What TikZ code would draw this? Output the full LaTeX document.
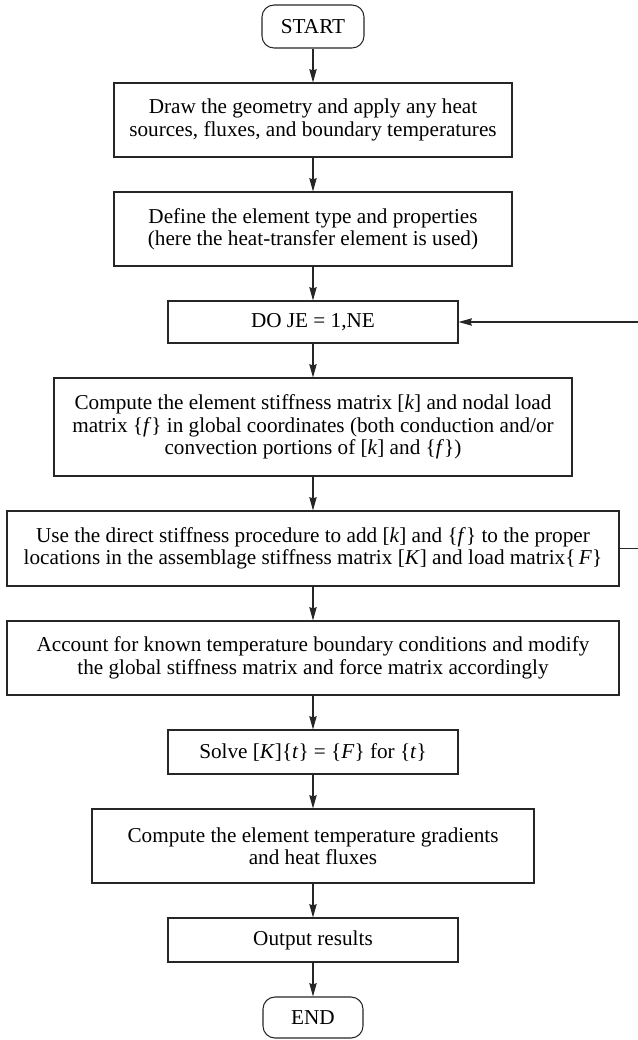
\documentclass[tikz,border=0pt]{standalone}
\usepackage{fontspec}
\setmainfont{Liberation Serif}
\usetikzlibrary{arrows.meta, positioning}

\begin{document}
\begin{tikzpicture}[
    node distance=25.45pt,
    box/.style={draw=black!85, line width=0.8pt, align=center,
                font=\fontsize{15.9}{16.8}\selectfont, inner sep=2pt},
    term/.style={box, rounded corners=9pt, minimum width=76.5pt,
                 minimum height=32.25pt},
    arr/.style={-{Stealth[length=10pt, width=5.5pt, inset=1pt]},
                line width=0.8pt, black!85},
  ]
  \useasboundingbox (-234.75pt,19.875pt) rectangle (243pt,-760.125pt);

  % ── START ──
  \node[term] (start) at (0,0) {START};

  % ── GEOMETRY ──
  \node[box, minimum width=298.5pt, minimum height=55.5pt, below=of start] (geom)
    {Draw the geometry and apply any heat\\sources, fluxes, and boundary temperatures};
  \draw[arr] (start) -- (geom);

  % ── ELEMENT TYPE ──
  \node[box, minimum width=298.5pt, minimum height=55.5pt, below=of geom] (elem)
    {Define the element type and properties\\(here the heat-transfer element is used)};
  \draw[arr] (geom) -- (elem);

  % ── LOOP ──
  \node[box, minimum width=217.5pt, minimum height=31.5pt, below=of elem] (doje)
    {DO JE = 1,NE};
  \draw[arr] (elem) -- (doje);

  % ── ELEMENT MATRICES ──
  \node[box, minimum width=388.5pt, minimum height=73.5pt, below=of doje] (kmat)
    {Compute the element stiffness matrix [\textit{k}] and nodal load\\
     matrix \{\textit{f}\} in global coordinates (both conduction and/or\\
     convection portions of [\textit{k}] and \{\textit{f}\})};
  \draw[arr] (doje) -- (kmat);

  % ── ASSEMBLE ──
  \node[box, minimum width=459pt, minimum height=56.25pt, below=of kmat] (assem)
    {Use the direct stiffness procedure to add [\textit{k}] and \{\textit{f}\} to the proper\\
     locations in the assemblage stiffness matrix [\textit{K}] and load matrix\{\,\textit{F}\}};
  \draw[arr] (kmat) -- (assem);

  % back to DO
  \coordinate (ret) at ([xshift=20pt]assem.east);
  \draw[arr] (assem.east) -- (ret) |- (doje.east);

  % ── BOUNDARY CONDITIONS ──
  \node[box, minimum width=459pt, minimum height=55.5pt, below=of assem] (bc)
    {Account for known temperature boundary conditions and modify\\
     the global stiffness matrix and force matrix accordingly};
  \draw[arr] (assem) -- (bc);

  % ── SOLVE ──
  \node[box, minimum width=217.5pt, minimum height=33pt, below=of bc] (solve)
    {Solve [\textit{K}]\{\textit{t}\} = \{\textit{F}\} for \{\textit{t}\}};
  \draw[arr] (bc) -- (solve);

  % ── GRADIENTS ──
  \node[box, minimum width=331.5pt, minimum height=55.5pt, below=of solve] (grad)
    {Compute the element temperature gradients\\and heat fluxes};
  \draw[arr] (solve) -- (grad);

  % ── OUTPUT ──
  \node[box, minimum width=217.5pt, minimum height=33pt, below=of grad] (out)
    {Output results};
  \draw[arr] (grad) -- (out);

  % ── END ──
  \node[term, minimum width=75pt, minimum height=30.75pt, below=of out] (stop) {END};
  \draw[arr] (out) -- (stop);
\end{tikzpicture}
\end{document}
